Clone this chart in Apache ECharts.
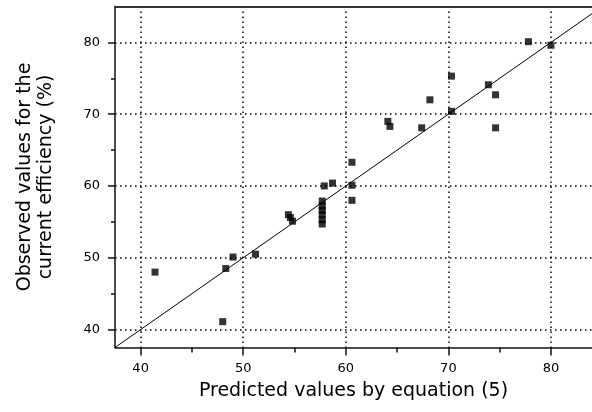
<!DOCTYPE html>
<html>
<head>
<meta charset="utf-8">
<script src="https://cdn.jsdelivr.net/npm/echarts@6/dist/echarts.min.js"></script>
<style>
  html, body { margin: 0; padding: 0; background: #fff; }
  #chart { width: 592px; height: 412px; }
</style>
</head>
<body>
<div id="chart"></div>
<script>
// 数据：预测值 (x) 与观测值 (y)
const predicted = [41.4, 48.0, 48.3, 49.0, 51.2, 54.4, 54.6, 54.8, 57.7, 57.7, 57.7, 57.7, 57.7, 57.7,
                   57.9, 58.7, 60.6, 60.6, 60.6, 64.1, 64.3, 67.4, 68.2, 70.3, 70.3, 73.9, 74.6, 74.6, 77.8, 80.0];
const observed  = [48.0, 41.1, 48.5, 50.1, 50.5, 56.0, 55.6, 55.1, 54.7, 55.3, 56.0, 56.6, 57.2, 57.9,
                   60.0, 60.4, 63.3, 60.1, 58.0, 69.0, 68.3, 68.1, 72.0, 75.3, 70.4, 74.1, 72.7, 68.1, 80.1, 79.6];
// y = x 参考线
const diagLine = [[37.5, 37.5], [85, 85]];
// 刻度
const majorTicks = [40, 50, 60, 70, 80];
const minorTicks = [45, 55, 65, 75];

const FONT = 'DejaVu Sans';
const chart = echarts.init(document.getElementById('chart'));

const axisLine = { show: true, onZero: false, lineStyle: { color: '#111', width: 1.5 } };
const gridLine = { show: true, lineStyle: { color: '#000', width: 1.5, type: [1.5, 3.5] } };

const option = {
    animation: false,
    backgroundColor: '#fff',
    grid: { left: 115, right: 0, top: 6.5, bottom: 64.5, outerBoundsMode: 'none' },
    xAxis: [
        {
            type: 'value', min: 37.5, max: 84, position: 'bottom',
            name: 'Predicted values by equation (5)',
            nameLocation: 'middle', nameGap: 34, nameMoveOverlap: false,
            nameTextStyle: { fontFamily: FONT, fontSize: 19, color: '#000' },
            axisLine: axisLine,
            axisTick: { show: true, length: 8, customValues: majorTicks, lineStyle: { color: '#111', width: 1.5 } },
            axisLabel: { customValues: majorTicks, margin: 15, fontFamily: FONT, fontSize: 13, color: '#000' },
            splitLine: gridLine,
            minorTick: { show: false }
        },
        {
            // 次刻度
            type: 'value', min: 37.5, max: 84, position: 'bottom',
            axisLine: { show: false },
            axisTick: { show: true, length: 5, customValues: minorTicks, lineStyle: { color: '#111', width: 1.5 } },
            axisLabel: { show: false },
            splitLine: { show: false }
        },
        {
            // 顶部边框
            type: 'value', min: 37.5, max: 84, position: 'top',
            axisLine: { show: true, lineStyle: { color: '#333', width: 2 } },
            axisTick: { show: false },
            axisLabel: { show: false },
            splitLine: { show: false }
        }
    ],
    yAxis: [
        {
            type: 'value', min: 37.5, max: 85, position: 'left',
            name: 'Observed values for the\ncurrent efficiency (%)',
            nameLocation: 'middle', nameGap: 58, nameMoveOverlap: false,
            nameTextStyle: { fontFamily: FONT, fontSize: 19, lineHeight: 21, color: '#000', align: 'center' },
            axisLine: axisLine,
            axisTick: { show: true, length: 7, customValues: majorTicks, lineStyle: { color: '#111', width: 1.5 } },
            axisLabel: { customValues: majorTicks, margin: 15, fontFamily: FONT, fontSize: 13, color: '#000' },
            splitLine: gridLine,
            minorTick: { show: false }
        },
        {
            type: 'value', min: 37.5, max: 85, position: 'left',
            axisLine: { show: false },
            axisTick: { show: true, length: 4, customValues: minorTicks, lineStyle: { color: '#111', width: 1.5 } },
            axisLabel: { show: false },
            splitLine: { show: false }
        }
    ],
    series: [
        {
            type: 'line',
            data: diagLine,
            showSymbol: false,
            symbol: 'none',
            lineStyle: { color: '#000', width: 1 },
            silent: true,
            z: 2
        },
        {
            type: 'scatter',
            data: predicted.map((x, i) => [x, observed[i]]),
            symbol: 'rect',
            symbolSize: 7,
            itemStyle: { color: '#000' },
            z: 3
        }
    ]
};

chart.setOption(option);

window.addEventListener('resize', () => {
    chart.resize();
});
</script>
</body>
</html>
